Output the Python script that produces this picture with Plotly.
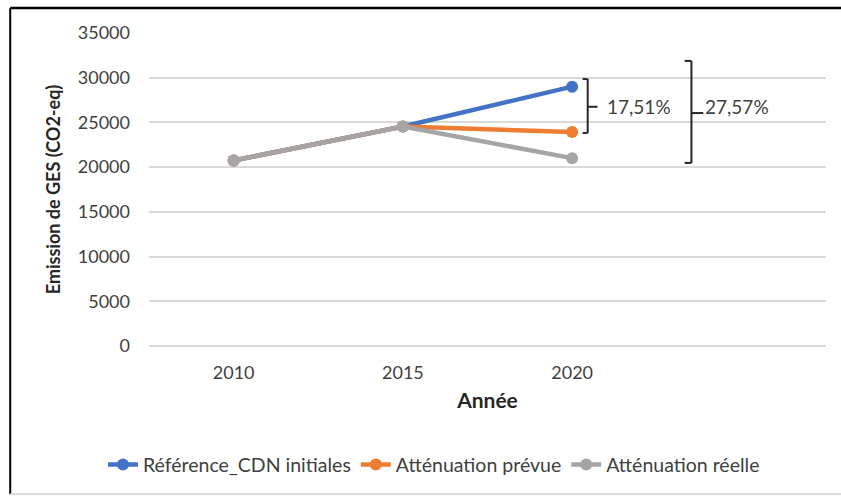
import plotly.graph_objects as go

# Emissions data (CO2-eq) per year
years = ["2010", "2015", "2020"]
reference_cdn = [20750, 24550, 29000]
attenuation_prevue = [20750, 24550, 23922]
attenuation_reelle = [20750, 24550, 21005]

series_names = ["Référence_CDN initiales", "Atténuation prévue", "Atténuation réelle"]
series_colors = ["#4472C4", "#ED7D31", "#A5A5A5"]

FONT = "Lato"
TXT = "#404040"

x_pos = list(range(len(years)))

fig = go.Figure()
for name, vals, col in zip(series_names, [reference_cdn, attenuation_prevue, attenuation_reelle], series_colors):
    fig.add_trace(go.Scatter(
        x=x_pos, y=vals, name=name, mode="lines+markers",
        line=dict(color=col, width=4.5),
        marker=dict(color=col, size=12),
    ))

# Reduction percentages relative to the reference scenario in the final year
pct_prevue = (reference_cdn[-1] - attenuation_prevue[-1]) / reference_cdn[-1] * 100
pct_reelle = (reference_cdn[-1] - attenuation_reelle[-1]) / reference_cdn[-1] * 100
fmt = lambda v: f"{v:.2f}%".replace(".", ",")

bk = dict(color="#262626", width=2)


def bracket(x0, x1, y_top, y_bot, y_mid, x_tick):
    fig.add_shape(type="line", x0=x0, x1=x1, y0=y_top, y1=y_top, line=bk)
    fig.add_shape(type="line", x0=x1, x1=x1, y0=y_top, y1=y_bot, line=bk)
    fig.add_shape(type="line", x0=x0, x1=x1, y0=y_bot, y1=y_bot, line=bk)
    fig.add_shape(type="line", x0=x1, x1=x_tick, y0=y_mid, y1=y_mid, line=bk)


bracket(2.062, 2.092, reference_cdn[-1] + 850, attenuation_prevue[-1] - 100, 26750, 2.15)
bracket(2.665, 2.705, 31880, attenuation_reelle[-1] - 530, 26050, 2.775)

fig.add_annotation(x=2.195, y=26750, text=fmt(pct_prevue), showarrow=False,
                   xanchor="left", yanchor="middle", font=dict(family=FONT, size=19, color=TXT))
fig.add_annotation(x=2.775, y=26750, text=fmt(pct_reelle), showarrow=False,
                   xanchor="left", yanchor="middle", font=dict(family=FONT, size=19, color=TXT))

# Outer chart frame: dark top and left edges, faint bottom edge
fig.add_shape(type="line", xref="paper", yref="paper", x0=-0.205, x1=1.06, y0=1.08, y1=1.08,
              line=dict(color="#000000", width=2.5), layer="below")
fig.add_shape(type="line", xref="paper", yref="paper", x0=-0.205, x1=-0.205, y0=1.08, y1=-0.473,
              line=dict(color="#000000", width=2), layer="below")
fig.add_shape(type="line", xref="paper", yref="paper", x0=-0.205, x1=1.06, y0=-0.473, y1=-0.473,
              line=dict(color="#D0D0D0", width=1.5), layer="below")

fig.update_layout(
    width=841, height=496,
    margin=dict(l=149, r=15, t=33, b=150, autoexpand=False),
    paper_bgcolor="white", plot_bgcolor="white",
    font=dict(family=FONT, size=18, color=TXT),
    showlegend=True,
    legend=dict(orientation="h", xref="container", yref="paper",
                x=0.516, xanchor="center", y=-0.38, yanchor="middle",
                font=dict(family=FONT, size=19.5, color=TXT), itemwidth=30, traceorder="normal"),
    xaxis=dict(
        range=[-0.5, 3.5], tickvals=x_pos, ticktext=years, showgrid=False, zeroline=False,
        showline=False, ticks="", ticklabelstandoff=14,
        title=dict(text="<b>Année</b>", font=dict(family=FONT, size=21, color="#262626"), standoff=11),
    ),
    yaxis=dict(
        range=[0, 35000], dtick=5000, showgrid=True, gridcolor="#D9D9D9", gridwidth=1.5,
        zeroline=True, zerolinecolor="#D9D9D9", zerolinewidth=1.5, showline=False, ticks="",
        tickformat="d", ticklabelstandoff=18,
        title=dict(text="<b>Emission de GES (CO2-eq)</b>", font=dict(family=FONT, size=18, color="#262626"), standoff=12),
    ),
)

fig.write_html("out.html")
